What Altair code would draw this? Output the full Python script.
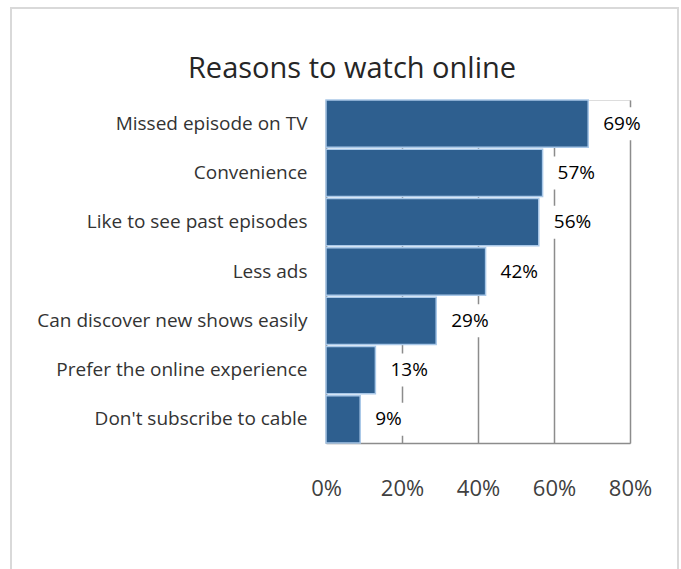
import altair as alt
import pandas as pd

categories = ["Missed episode on TV", "Convenience", "Like to see past episodes",
              "Less ads", "Can discover new shows easily",
              "Prefer the online experience", "Don't subscribe to cable"]
values = [69, 57, 56, 42, 29, 13, 9]
tick_values = [0, 20, 40, 60, 80]
title_text = ["Reasons to watch online"]

df = pd.DataFrame({"reason": categories, "pct": values})
df["frac"] = df["pct"] / 100
df["label"] = df["pct"].astype(str) + "%"
tdf = pd.DataFrame({"t": title_text})

FONT = "Open Sans"

x_enc = alt.X("frac:Q", scale=alt.Scale(domain=[0, 0.8], nice=False),
              axis=alt.Axis(values=[v / 100 for v in tick_values], format=".0%",
                            grid=True, gridColor="#8c8c8c", gridWidth=1.5,
                            domainColor="#8c8c8c", domainWidth=1.5, ticks=False,
                            labelFontSize=22, labelColor="#404040", labelFont=FONT,
                            labelFlush=False, labelOverlap=False,
                            labelPadding=35, title=None))
y_enc = alt.Y("reason:N", sort=categories,
              scale=alt.Scale(paddingInner=0.04, paddingOuter=0.0),
              axis=alt.Axis(ticks=False, domainColor="#8c8c8c", domainWidth=1.5,
                            labelFontSize=19, labelColor="#333333", labelFont=FONT,
                            labelLimit=400, labelPadding=19, title=None))

frame = alt.Chart(tdf).mark_rect(fill=None, stroke="#d9d9d9", strokeWidth=2).encode(
    x=alt.value(-315), x2=alt.value(352), y=alt.value(-92), y2=alt.value(520)
)

title = alt.Chart(tdf).mark_text(align="center", baseline="alphabetic", fontSize=29,
                                 font=FONT, color="#262626").encode(
    x=alt.value(26), y=alt.value(-22), text="t:N"
)

bars = alt.Chart(df).mark_bar(color="#2E5F8F", stroke="#A9C8E8", strokeWidth=1.5).encode(
    x=x_enc, y=y_enc
)

masks = alt.Chart(df).mark_bar(color="white", height=33, xOffset=10, x2Offset=58).encode(
    x="frac:Q", x2="frac:Q", y=alt.Y("reason:N", sort=categories)
)

labels = alt.Chart(df).mark_text(align="left", baseline="middle", dx=15, fontSize=19,
                                 font=FONT, color="#000000").encode(
    x="frac:Q", y=alt.Y("reason:N", sort=categories), text="label:N"
)

chart = alt.layer(frame, title, bars, masks, labels).properties(
    width=304, height=343,
    autosize=alt.AutoSizeParams(type="none"),
    padding={"left": 326, "top": 100, "right": 51, "bottom": 126},
).configure_view(stroke=None).configure(background="white")

chart.save("out.html", embed_options={"renderer": "svg", "actions": False})
